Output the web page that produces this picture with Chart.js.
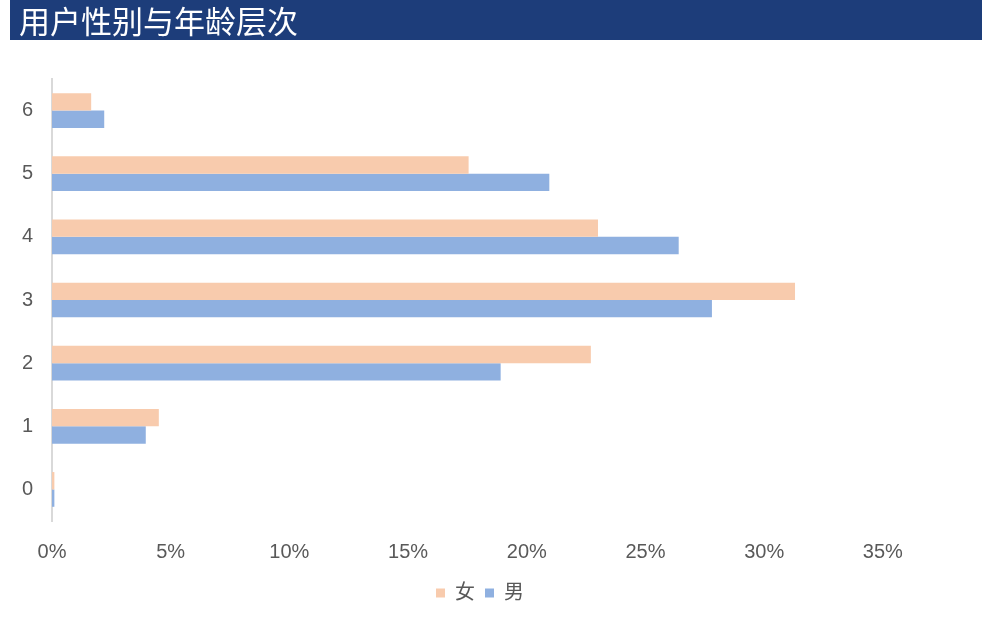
<!DOCTYPE html>
<html>
<head>
<meta charset="utf-8">
<script src="https://cdn.jsdelivr.net/npm/chart.js@4/dist/chart.umd.min.js"></script>
<style>
    html, body { margin: 0; padding: 0; background: #fff; }
    #wrap { position: relative; width: 982px; height: 619px; }
    #title {
        position: absolute; left: 10px; top: 0; width: 972px; height: 40px;
        background: #1d3d7a; color: #fff;
        font-family: "Noto Sans CJK SC", sans-serif; font-size: 31px;
        line-height: 40px; padding-left: 9px; box-sizing: border-box;
    }
    canvas { position: absolute; left: 0; top: 0; }
</style>
</head>
<body>
<div id="wrap">
    <canvas id="chart" width="982" height="619"></canvas>
    <div id="title">用户性别与年龄层次</div>
</div>
<script>
const ageGroups = ['6', '5', '4', '3', '2', '1', '0'];
const female = [1.65, 17.55, 23.0, 31.3, 22.7, 4.5, 0.1];
const male = [2.2, 20.95, 26.4, 27.8, 18.9, 3.95, 0.1];
const xTicks = [0, 5, 10, 15, 20, 25, 30, 35];

const textColor = '#595959';
const fontFamily = '"Liberation Sans", "Noto Sans CJK SC", sans-serif';

new Chart(document.getElementById('chart'), {
    type: 'bar',
    data: {
        labels: ageGroups,
        datasets: [
            { label: '女', data: female, backgroundColor: '#f8cbad', borderWidth: 0 },
            { label: '男', data: male, backgroundColor: '#8fb0e0', borderWidth: 0 }
        ]
    },
    options: {
        indexAxis: 'y',
        responsive: false,
        animation: false,
        categoryPercentage: 0.55,
        barPercentage: 1,
        layout: { padding: { top: 79, right: 22, bottom: 6, left: 0 } },
        plugins: {
            title: { display: false },
            tooltip: { enabled: false },
            legend: {
                position: 'bottom',
                labels: {
                    color: textColor,
                    font: { family: fontFamily, size: 20 },
                    boxWidth: 9,
                    boxHeight: 9,
                    padding: 10
                }
            }
        },
        scales: {
            x: {
                min: 0,
                max: 38.25,
                afterBuildTicks: (scale) => { scale.ticks = xTicks.map(v => ({ value: v })); },
                afterFit: (scale) => { scale.height = 52; },
                grid: { display: false, drawTicks: false },
                border: { display: false },
                ticks: {
                    color: textColor,
                    padding: 19,
                    font: { family: fontFamily, size: 20 },
                    callback: (v) => v + '%'
                }
            },
            y: {
                afterFit: (scale) => { scale.width = 52; },
                grid: { display: false, drawTicks: false },
                border: { display: true, color: '#d9d9d9', width: 2 },
                ticks: {
                    color: textColor,
                    padding: 19,
                    font: { family: fontFamily, size: 20 }
                }
            }
        }
    }
});
</script>
</body>
</html>
